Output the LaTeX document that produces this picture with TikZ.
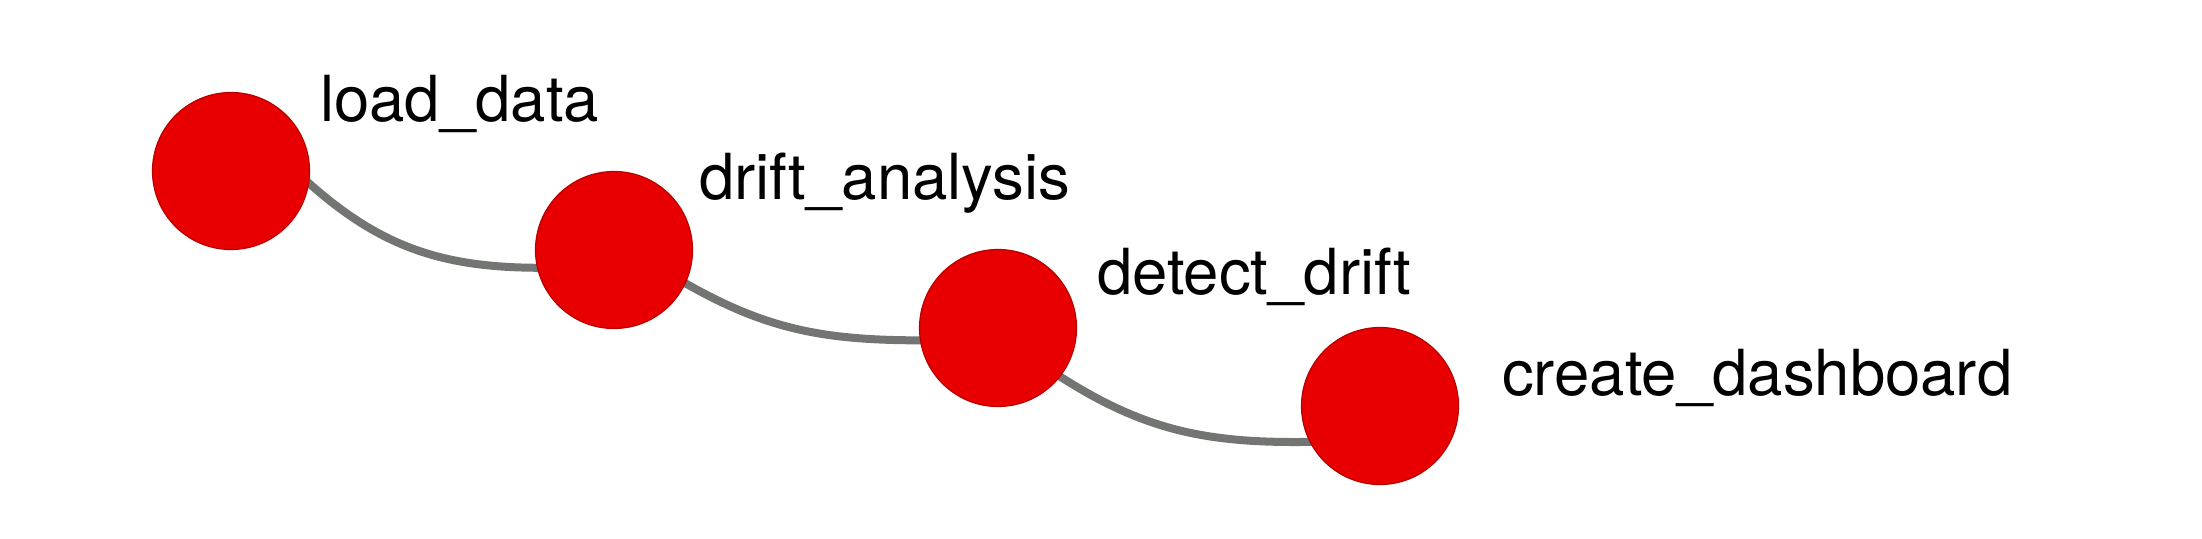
\documentclass[tikz,border=0pt]{standalone}
\usepackage{fontspec}
\setmainfont{TeX Gyre Heros}
\usepackage{xcolor}
\usetikzlibrary{calc}
\usetikzlibrary{arrows.meta}
\tikzset{>=latex}
\definecolor{taskred}{HTML}{E80000}
\definecolor{taskrim}{HTML}{B80000}
\definecolor{linkgray}{HTML}{737573}
\tikzstyle{task} = [circle, fill = taskred, draw = taskrim, line width = 1.2pt, minimum size = 157pt, inner sep = 0]
\tikzstyle{taskname} = [draw = none, inner sep = 0, anchor = base west, font = \fontsize{63.5}{70}\selectfont]
\tikzstyle{link} = [-, draw = linkgray, line width = 8pt, shorten < = -4pt, shorten > = -4pt]
\pgfdeclarelayer{back}
\pgfsetlayers{back,main}

\begin{document}
\begin{tikzpicture}[x=1pt, y=1pt]
\useasboundingbox (0, 0) rectangle (2202, -538);
\node [task]  (T0) at (231, -171) {};
\node [task]  (T1) at (614, -250) {};
\node [task]  (T2) at (998, -328) {};
\node [task]  (T3) at (1380, -406) {};
\node [taskname]  (N0) at (320, -121) {load\_data};
\node [taskname]  (N1) at (699, -199) {drift\_analysis};
\node [taskname]  (N2) at (1097, -294) {detect\_drift};
\node [taskname]  (N3) at (1502, -395) {create\_dashboard};
\begin{pgfonlayer}{back}
\draw [link] (T0.-9) to [out=-42, in=180] (T1.193);
\draw [link] (T1.-25) to [out=-30, in=180] (T2.189);
\draw [link] (T2.-38) to [out=-33, in=181] (T3.207);
\end{pgfonlayer}
\end{tikzpicture}
\end{document}
